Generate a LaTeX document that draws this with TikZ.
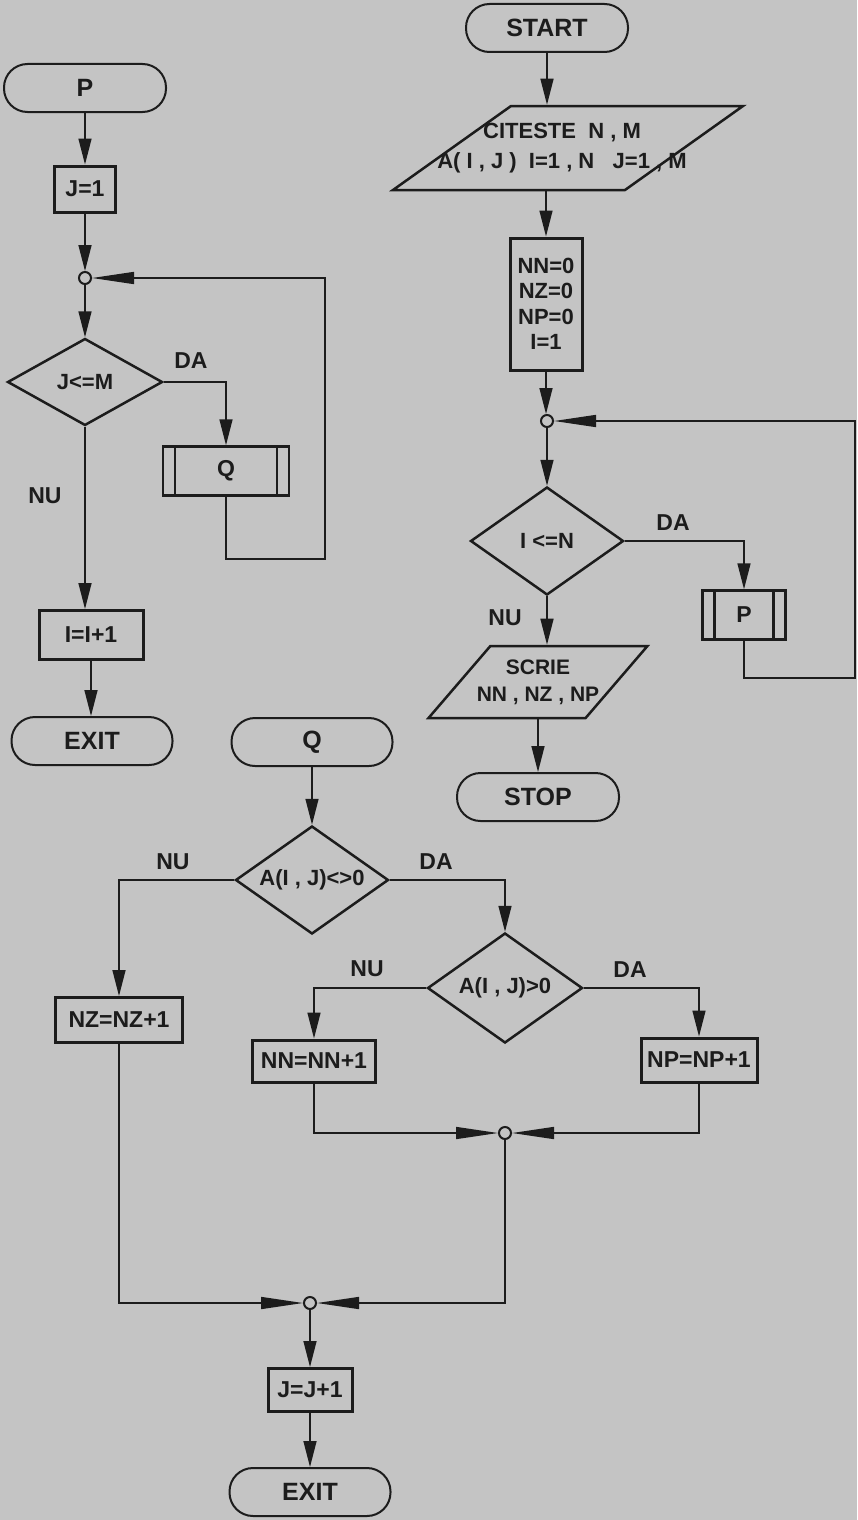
\documentclass[tikz,border=0pt]{standalone}
\usepackage{fontspec}
\setmainfont{Liberation Sans}
\usetikzlibrary{shapes.geometric,arrows.meta}
\definecolor{paper}{RGB}{196,196,196}
\definecolor{ink}{RGB}{28,28,28}
\begin{document}
\begin{tikzpicture}[x=1pt,y=-1pt,
  every node/.style={text=ink},
  term/.style={draw=ink, line width=2pt, rectangle, rounded corners=23.5pt, minimum width=162pt, minimum height=48pt, inner sep=0pt, font=\bfseries\fontsize{25}{29}\selectfont},
  box/.style={draw=ink, line width=3pt, rectangle, inner sep=0pt, font=\bfseries\fontsize{23}{27}\selectfont},
  dec/.style={draw=ink, line width=2.5pt, diamond, aspect=1.4, inner sep=0pt, font=\bfseries\fontsize{22}{26}\selectfont},
  subr/.style={draw=ink, line width=2.5pt, rectangle, inner sep=0pt, minimum height=49pt, font=\bfseries\fontsize{23}{27}\selectfont,
    path picture={
      \draw[ink, line width=2.5pt] ([xshift=12pt]path picture bounding box.north west) -- ([xshift=12pt]path picture bounding box.south west);
      \draw[ink, line width=2.5pt] ([xshift=-12pt]path picture bounding box.north east) -- ([xshift=-12pt]path picture bounding box.south east);}},
  iobox/.style={draw=ink, line width=2.5pt, trapezium, trapezium stretches=true, inner sep=2pt},
  iotext/.style={font=\bfseries\fontsize{22}{30}\selectfont, align=center, text=ink},
  junc/.style={draw=ink, circle, line width=2pt, minimum size=12pt, inner sep=0pt, fill=paper},
  conn/.style={draw=ink, line width=1.5pt},
  arr/.style={conn, -{Triangle[length=26pt,width=13pt]}},
  larr/.style={conn, -{Triangle[length=42pt,width=12pt]}},
  lbl/.style={font=\bfseries\fontsize{23}{27}\selectfont}
]
\useasboundingbox (0,0) rectangle (857,1520);
\fill[paper] (0,0) rectangle (857,1520);

% ---------- subroutine P (left) ----------
\node[term] (pstart) at (85,88) {P};
\node[box, minimum width=61pt, minimum height=46pt] (j1) at (85,189) {J=1};
\node[junc] (c1) at (85,278) {};
\node[dec, minimum width=155pt, minimum height=87pt] (d1) at (85,382) {J<=M};
\node[subr, minimum width=126pt] (q1) at (226,471) {Q};
\node[box, minimum width=104pt, minimum height=49pt] (iinc) at (91,635) {I=I+1};
\node[term, minimum width=161pt] (exit1) at (92,741) {EXIT};
\node[lbl] (da1) at (191,361) {DA};
\node[lbl] (nu1) at (45,496) {NU};
\coordinate (lq) at (325,559);

\draw[arr] (pstart.south) -- (j1.north);
\draw[arr] (j1.south) -- (c1.north);
\draw[arr] (c1.south) -- (d1.north);
\draw[arr] (d1.east) -| (q1.north);
\draw[larr] (q1.south) |- (lq) |- (c1.east);
\draw[arr] (d1.south) -- (d1.south |- iinc.north);
\draw[arr] (iinc.south) -- (iinc.south |- exit1.north);

% ---------- main program (right) ----------
\node[term] (start) at (547,28) {START};
\node[iobox, minimum width=350pt, minimum height=84pt, trapezium left angle=44, trapezium right angle=136] (cit) at (568,148) {};
\node[iotext] (cittxt) at ([xshift=-6pt]cit.center) {CITESTE~~N , M\\A( I , J )~~I=1 , N~~~J=1 , M};
\node[box, minimum width=72pt, minimum height=132pt, align=center, font=\bfseries\fontsize{22}{25.5}\selectfont] (init) at (546,304) {NN=0\\NZ=0\\NP=0\\I=1};
\node[junc] (c2) at (547,421) {};
\node[dec, minimum width=153pt, minimum height=108pt] (d2) at (547,541) {I <=N};
\node[subr, minimum width=83pt] (p2) at (744,615) {P};
\node[iobox, minimum width=219pt, minimum height=72pt, trapezium left angle=57, trapezium right angle=123] (scrie) at (538,682) {};
\node[iotext, font=\bfseries\fontsize{21}{27}\selectfont] (scrietxt) at (scrie.center) {SCRIE\\NN , NZ , NP};
\node[term] (stop) at (538,797) {STOP};
\node[lbl] (da2) at (673,523) {DA};
\node[lbl] (nu2) at (505,618) {NU};
\coordinate (lp) at (855,678);

\draw[arr] (start.south) -- (start.south |- cit.north);
\draw[arr] (init.north |- cit.south) -- (init.north);
\draw[arr] (init.south) -- (init.south |- c2.north);
\draw[arr] (c2.south) -- (c2.south |- d2.north);
\draw[arr] (d2.east) -| (p2.north);
\draw[larr] (p2.south) |- (lp) |- (c2.east);
\draw[arr] (d2.south) -- (d2.south |- scrie.north);
\draw[arr] (stop.north |- scrie.south) -- (stop.north);

% ---------- subroutine Q (bottom) ----------
\node[term, minimum width=161pt] (qt) at (312,742) {Q};
\node[dec, minimum width=153pt, minimum height=108pt] (d3) at (312,880) {A(I , J)<>0};
\node[box, minimum width=127pt, minimum height=45pt] (nz) at (119,1020) {NZ=NZ+1};
\node[dec, minimum width=155pt, minimum height=110pt] (d4) at (505,988) {A(I , J)>0};
\node[box, minimum width=123pt, minimum height=42pt] (nn) at (314,1061) {NN=NN+1};
\node[box, minimum width=116pt, minimum height=44pt] (np) at (699,1060) {NP=NP+1};
\node[junc] (c3) at (505,1133) {};
\node[junc] (c4) at (310,1303) {};
\node[box, minimum width=84pt, minimum height=43pt] (jinc) at (310,1390) {J=J+1};
\node[term, minimum width=161pt] (exit2) at (310,1492) {EXIT};
\node[lbl] (nu3) at (173,862) {NU};
\node[lbl] (da3) at (436,862) {DA};
\node[lbl] (nu4) at (367,969) {NU};
\node[lbl] (da4) at (630,970) {DA};

\draw[arr] (qt.south) -- (d3.north);
\draw[arr] (d3.west) -| (nz.north);
\draw[arr] (d3.east) -| (d4.north);
\draw[arr] (d4.west) -| (nn.north);
\draw[arr] (d4.east) -| (np.north);
\draw[larr] (nn.south) |- (c3.west);
\draw[larr] (np.south) |- (c3.east);
\draw[larr] (c3.south) |- (c4.east);
\draw[larr] (nz.south) |- (c4.west);
\draw[arr] (c4.south) -- (jinc.north);
\draw[arr] (jinc.south) -- (exit2.north);
\end{tikzpicture}
\end{document}
